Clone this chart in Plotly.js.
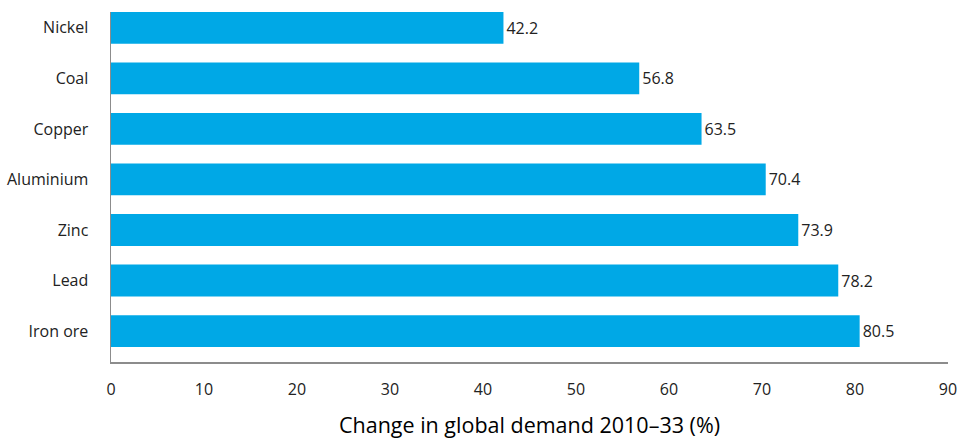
<!DOCTYPE html>
<html>
<head>
<meta charset="utf-8">
<script src="https://cdn.plot.ly/plotly-3.0.1.min.js"></script>
<style>html,body{margin:0;padding:0;background:#fff}#chart{width:957px;height:439px}</style>
</head>
<body>
<div id="chart"></div>
<script>
const categories = ["Iron ore", "Lead", "Zinc", "Aluminium", "Copper", "Coal", "Nickel"];
const values = [80.5, 78.2, 73.9, 70.4, 63.5, 56.8, 42.2];
const valueLabels = ["80.5", "78.2", "73.9", "70.4", "63.5", "56.8", "42.2"];
const xTicks = [0, 10, 20, 30, 40, 50, 60, 70, 80, 90];

const font = "'Open Sans', 'Noto Sans', sans-serif";

Plotly.newPlot('chart', [{
  type: 'bar',
  orientation: 'h',
  y: categories,
  x: values,
  text: valueLabels,
  textposition: 'outside',
  cliponaxis: false,
  textfont: {family: font, size: 16, color: '#222'},
  marker: {color: '#00A8E6'},
  width: 0.63,
  hoverinfo: 'none'
}], {
  width: 957, height: 439,
  margin: {l: 111, r: 9, t: 12, b: 77},
  paper_bgcolor: '#fff', plot_bgcolor: '#fff',
  showlegend: false,
  xaxis: {
    range: [0, 90], tickvals: xTicks, ticktext: xTicks.map(String),
    showgrid: false, zeroline: false,
    showline: true, linecolor: '#8c8c8c', linewidth: 1.5,
    ticks: '', ticklabelstandoff: 12, ticklabeloverflow: 'allow',
    tickfont: {family: font, size: 16, color: '#222'},
    title: {text: 'Change in global demand 2010–33 (%)', font: {family: font, size: 21.5, color: '#000', weight: 500}, standoff: 22}
  },
  yaxis: {
    type: 'category', range: [-0.612, 6.313],
    showgrid: false, zeroline: false,
    showline: true, linecolor: '#8c8c8c', linewidth: 1.5,
    ticks: '', ticklabelstandoff: 18,
    tickfont: {family: font, size: 16, color: '#222'}
  }
}, {staticPlot: true});
</script>
</body>
</html>
